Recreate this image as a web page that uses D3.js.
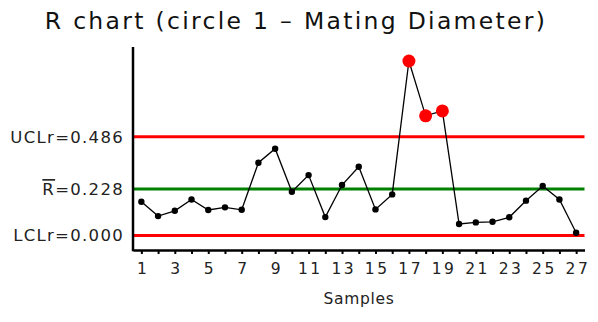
<!DOCTYPE html>
<html><head><meta charset="utf-8">
<script src="https://cdn.jsdelivr.net/npm/d3@7"></script>
<style>body{margin:0;background:#fff}svg{display:block}</style>
</head><body>
<svg id="c" width="598" height="322"></svg>
<script>
const samples = d3.range(1, 28);
const ranges = [0.166,0.095,0.121,0.177,0.125,0.138,0.126,0.358,0.427,0.215,0.297,0.090,0.248,0.338,0.128,0.202,0.859,0.589,0.613,0.056,0.064,0.067,0.089,0.171,0.243,0.177,0.013];
const limits = [
  {name:"UCLr", value:0.486, label:"UCLr=0.486", color:"#ff0000"},
  {name:"Rbar", value:0.228, label:"=0.228", color:"#008000"},
  {name:"LCLr", value:0.000, label:"LCLr=0.000", color:"#ff0000"}
];
const xTickLabels = [1,3,5,7,9,11,13,15,17,19,21,23,25,27];
const title = "R chart (circle 1 \u2013 Mating Diameter)";
const xTitle = "Samples";

const svg = d3.select("#c");
const font = "DejaVu Sans, Verdana, sans-serif";
const x = d3.scaleLinear().domain([0.5, 27.5]).range([133, 584.5]);
const y = d3.scaleLinear().domain([-0.072, 0.928]).range([250, 47]);
const UCL = limits[0].value;

// limit lines
svg.selectAll("line.lim").data(limits).join("line").attr("class","lim")
  .attr("x1", x(0.5)).attr("x2", x(27.5))
  .attr("y1", d=>y(d.value)).attr("y2", d=>y(d.value))
  .attr("stroke", d=>d.color).attr("stroke-width", 3);

// limit labels
const lab = svg.selectAll("text.lim").data(limits).join("text").attr("class","lim")
  .attr("x", 124).attr("y", d=>y(d.value)).attr("dy","0.36em")
  .attr("text-anchor","end").attr("font-family", font).attr("font-size", 16.5)
  .attr("letter-spacing", 1.3).attr("fill","#222");
lab.each(function(d){
  const t = d3.select(this);
  if (d.name === "Rbar") {
    t.append("tspan").text("R").style("text-decoration","overline");
    t.append("tspan").text(d.label);
  } else t.text(d.label);
});

// x axis
const xAxis = d3.axisBottom(x).tickValues(samples).tickSize(4).tickSizeOuter(0)
  .tickFormat(d => xTickLabels.includes(d) ? d : "");
const gx = svg.append("g").attr("transform","translate(0,250)").call(xAxis);
gx.select(".domain").attr("stroke","#000").attr("stroke-width",2.5);
gx.selectAll(".tick line").attr("stroke","#000").attr("stroke-width",2);
gx.selectAll(".tick text").attr("font-family", font).attr("font-size", 15.5)
  .attr("letter-spacing", 2.5).attr("dx", 1.25).attr("fill","#222").attr("dy","1.1em");

// y axis line
svg.append("line").attr("x1", x(0.5)).attr("x2", x(0.5)).attr("y1", y.range()[1]).attr("y2", y.range()[0]+1.25)
  .attr("stroke","#000").attr("stroke-width",2.5);

// data line
const line = d3.line().x((d,i)=>x(samples[i])).y(d=>y(d));
svg.append("path").datum(ranges).attr("d", line).attr("fill","none").attr("stroke","#000").attr("stroke-width",1.3);

// points
svg.selectAll("circle.pt").data(ranges).join("circle").attr("class","pt")
  .attr("cx",(d,i)=>x(samples[i])).attr("cy", d=>y(d))
  .attr("r", d=> d > UCL ? 6.5 : 3.2)
  .attr("fill", d=> d > UCL ? "#ff0000" : "#000");

// titles
svg.append("text").attr("x", 296).attr("y", 29).attr("text-anchor","middle")
  .attr("font-family", font).attr("font-size", 23.5).attr("letter-spacing", 2.3)
  .attr("fill","#111").text(title);
svg.append("text").attr("x", 359).attr("y", 304).attr("text-anchor","middle")
  .attr("font-family", font).attr("font-size", 15.5).attr("letter-spacing", 0.7)
  .attr("fill","#222").text(xTitle);
</script>
</body></html>
